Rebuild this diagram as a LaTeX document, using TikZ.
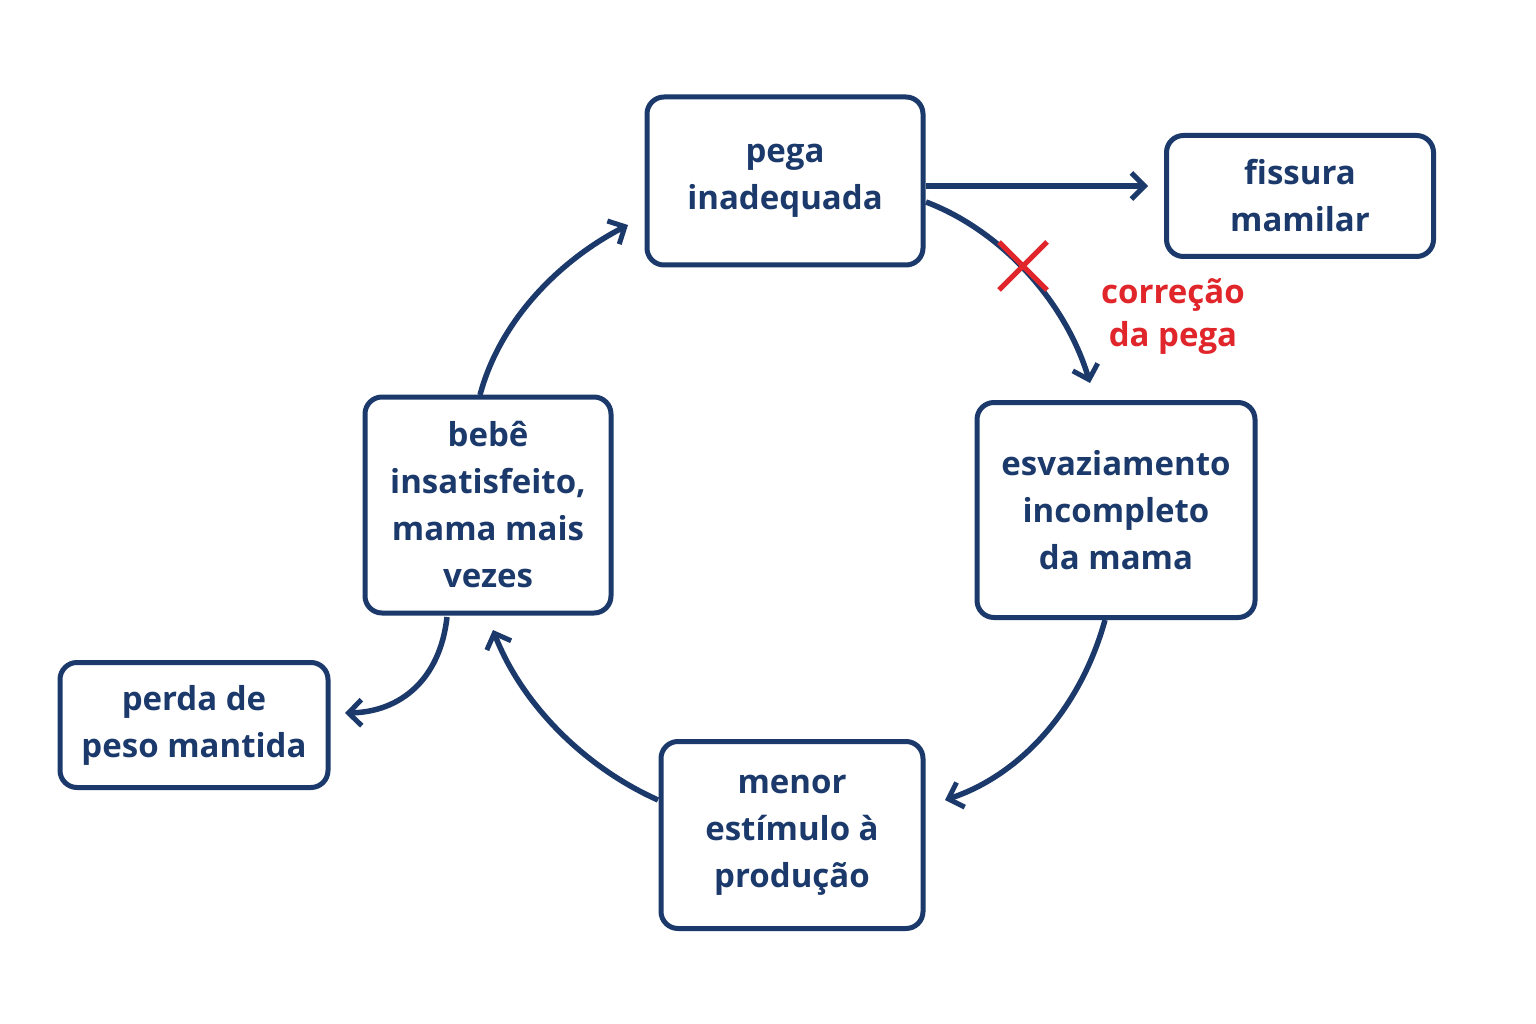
\documentclass[tikz,border=0pt]{standalone}
\usepackage{fontspec}
\setmainfont{Open Sans}
\usetikzlibrary{arrows.meta}
\definecolor{nb}{HTML}{1B3A6B}
\definecolor{rd}{HTML}{E0252B}
\begin{document}
\begin{tikzpicture}[x=1pt,y=-1pt,
  box/.style={draw=nb,line width=5pt,rounded corners=17pt,inner sep=0pt,align=center,text=nb,font=\fontsize{33}{47}\selectfont\bfseries},
  arr/.style={draw=nb,line width=5.5pt,-{Straight Barb[length=13pt,width=26pt,line width=5pt]}}]
\useasboundingbox[fill=white] (0,0) rectangle (1536,1024);
\node[box,minimum width=276pt,minimum height=168pt] (pega) at (785,181) {pega\\inadequada};
\node[box,minimum width=267pt,minimum height=121pt] (fis) at (1300,196) {fissura\\mamilar};
\node[box,minimum width=278pt,minimum height=215pt] (esv) at (1116,510) {esvaziamento\\incompleto\\da mama};
\node[box,minimum width=262pt,minimum height=187pt] (men) at (792,835) {menor\\estímulo à\\produção};
\node[box,minimum width=246pt,minimum height=216pt] (beb) at (488,505) {bebê\\insatisfeito,\\mama mais\\vezes};
\node[box,minimum width=268pt,minimum height=125pt] (per) at (194,725) {perda de\\peso mantida};
\coordinate (fisin) at (1148,186);
\draw[arr] (pega.east|-fisin) -- (fisin);
\coordinate (e0) at (926,202);
\coordinate (e1) at (1090,383);
\draw[arr] (e0) .. controls (1000,230) and (1065,300) .. (e1);
\coordinate (m1) at (945,800);
\draw[arr] (1105,620) .. controls (1080,710) and (1020,775) .. (m1);
\coordinate (b1) at (493,630);
\draw[arr] (658,800) .. controls (580,765) and (520,700) .. (b1);
\coordinate (p1) at (628,225);
\draw[arr] (480,395) .. controls (500,320) and (560,260) .. (p1);
\coordinate (q1) at (345,713);
\draw[arr] (447,617) .. controls (440,680) and (400,712) .. (q1);
\draw[rd,line width=5pt] (999,242) -- (1047,290) (1047,242) -- (999,290);
\node[text=rd,align=center,font=\fontsize{33}{43}\selectfont\bfseries] (cor) at (1173,316) {correção\\da pega};
\end{tikzpicture}
\end{document}
